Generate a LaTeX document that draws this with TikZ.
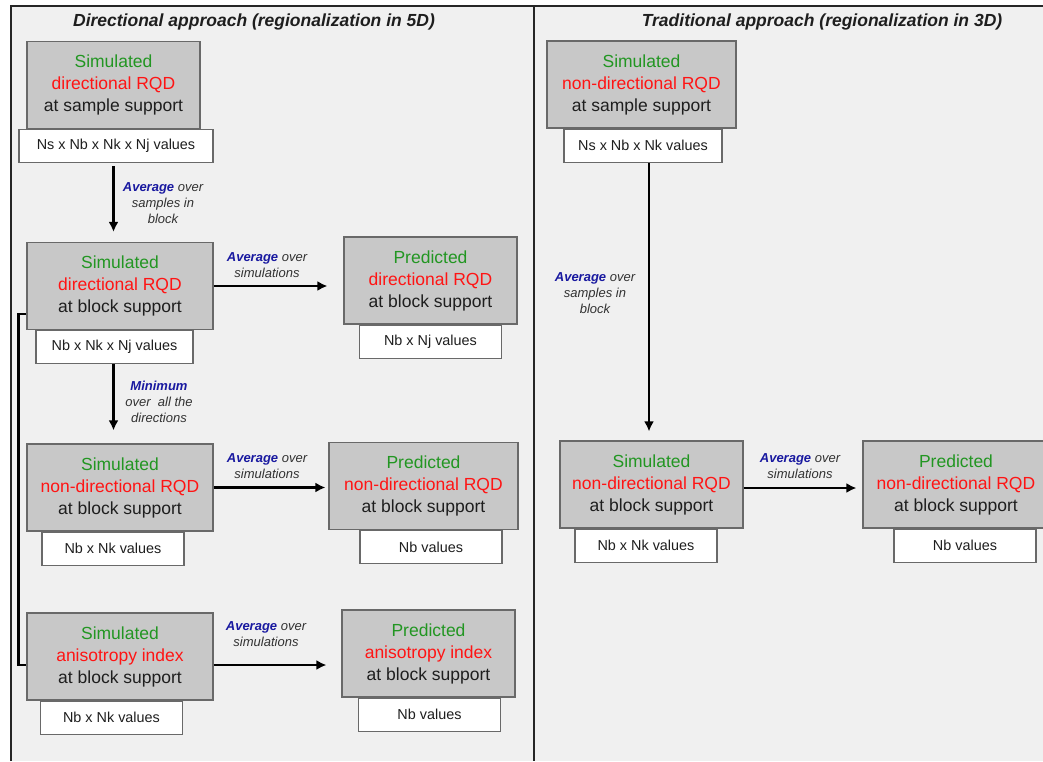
\documentclass[tikz,border=0pt]{standalone}
\usepackage{fontspec}
\setmainfont{Liberation Sans}
\usetikzlibrary{arrows.meta}
\usetikzlibrary{positioning}
\usetikzlibrary{calc}

\definecolor{panelgray}{RGB}{240,240,240}
\definecolor{boxgray}{RGB}{200,200,200}
\definecolor{boxline}{RGB}{105,105,105}
\definecolor{simgreen}{RGB}{34,150,34}
\definecolor{rqdred}{RGB}{255,20,20}
\definecolor{opblue}{RGB}{25,25,160}
\definecolor{notegray}{RGB}{50,50,50}
\definecolor{inkgray}{RGB}{30,30,30}

\newcommand{\opword}[1]{\textcolor{opblue}{\textbf{#1}}}

\begin{document}
\begin{tikzpicture}[x=1pt,y=-1pt,>={Latex[length=10pt,width=10pt]},
  simbox/.style={draw=boxline,fill=boxgray,line width=1.2pt,inner sep=0pt,minimum height=87pt,align=center,text=inkgray,font=\fontsize{17.5}{22}\selectfont},
  valbox/.style={draw=boxline,fill=white,line width=1.2pt,inner sep=0pt,minimum width=142pt,minimum height=33pt,text=inkgray,font=\fontsize{14.4}{17}\selectfont},
  note/.style={align=center,text=notegray,font=\fontsize{13}{16}\selectfont\itshape},
  title/.style={text=inkgray,font=\fontsize{17.5}{21}\selectfont\bfseries\itshape},
  flow/.style={->,line width=2.3pt}]
\clip (0,0) rectangle (1043,761);
\fill[white] (0,0) rectangle (1043,761);
\fill[panelgray] (11,6) rectangle (1043,761);
\draw[line width=2pt,black!85] (11,761) -- (11,6) -- (1043,6);
\draw[line width=2pt,black!85] (534,6) -- (534,761);

% panel titles
\node[title] (T1) at (254,22) {Directional approach (regionalization in 5D)};
\node[title] (T2) at (822,22) {Traditional approach (regionalization in 3D)};

% directional approach
\draw node [simbox,minimum width=173pt] (B1) at (113.5,85) {\textcolor{simgreen}{Simulated}\\\textcolor{rqdred}{directional RQD}\\at sample support};
\draw node [valbox,minimum width=194pt] [below=0pt of B1,xshift=2.5pt] (V1) {Ns x Nb x Nk x Nj values};
\draw node [simbox,minimum width=186pt] (B2) at (120,286) {\textcolor{simgreen}{Simulated}\\\textcolor{rqdred}{directional RQD}\\at block support};
\draw node [valbox,minimum width=157pt] [below=0pt of B2,xshift=-5.5pt] (V2) {Nb x Nk x Nj values};
\draw node [simbox,minimum width=173pt] (P1) at (430.5,280.5) {\textcolor{simgreen}{Predicted}\\\textcolor{rqdred}{directional RQD}\\at block support};
\draw node [valbox] [below=0pt of P1] (VP1) {Nb x Nj values};
\draw node [simbox,minimum width=186pt] (B3) at (120,487.5) {\textcolor{simgreen}{Simulated}\\\textcolor{rqdred}{non-directional RQD}\\at block support};
\draw node [valbox] [below=0pt of B3,xshift=-7pt] (V3) {Nb x Nk values};
\draw node [simbox,minimum width=189pt] (P2) at (423.5,486) {\textcolor{simgreen}{Predicted}\\\textcolor{rqdred}{non-directional RQD}\\at block support};
\draw node [valbox] [below=0pt of P2,xshift=7.5pt] (VP2) {Nb values};
\draw node [simbox,minimum width=186pt] (B4) at (120,656.5) {\textcolor{simgreen}{Simulated}\\\textcolor{rqdred}{anisotropy index}\\at block support};
\draw node [valbox] [below=0pt of B4,xshift=-8.5pt] (V4) {Nb x Nk values};
\draw node [simbox,minimum width=173pt] (P3) at (428.5,653.5) {\textcolor{simgreen}{Predicted}\\\textcolor{rqdred}{anisotropy index}\\at block support};
\draw node [valbox] [below=0pt of P3,xshift=1pt] (VP3) {Nb values};

\draw [flow,shorten >=10pt,shorten <=3pt] (B1 |- V1.south) -- (B1 |- B2.north);
\draw [flow,shorten >=16pt] (B2.east) -- (B2.east -| P1.west);
\draw [flow,shorten >=13pt] (B1 |- V2.south) -- (B1 |- B3.north);
\draw [flow,shorten >=3pt] (B3.east) -- (B3.east -| P2.west);
\draw [flow,shorten >=15pt] ([yshift=-8.5pt]B4.east) -- ([yshift=-8.5pt]B4.east -| P3.west);
\draw [line width=2.3pt] ([yshift=-28pt]B2.west) -- ++(-8,0) |- ([yshift=-8.5pt]B4.west);

\node[note] (L1) at (163,203) {\opword{Average} over\\samples in\\block};
\node[note] (L2) at (267,265.5) {\opword{Average} over\\simulations};
\node[note] (L3) at (159,402) {\opword{Minimum}\\over\ \ all the\\directions};
\node[note] (L4) at (267,466.5) {\opword{Average} over\\simulations};
\node[note] (L5) at (266,634.5) {\opword{Average} over\\simulations};

% traditional approach
\draw node [simbox,minimum width=189pt] (R1) at (641.5,84.5) {\textcolor{simgreen}{Simulated}\\\textcolor{rqdred}{non-directional RQD}\\at sample support};
\draw node [valbox,minimum width=158pt] [below=0pt of R1,xshift=1.5pt] (VR1) {Ns x Nb x Nk values};
\draw node [simbox,minimum width=183pt] (R2) at (651.5,484.5) {\textcolor{simgreen}{Simulated}\\\textcolor{rqdred}{non-directional RQD}\\at block support};
\draw node [valbox] [below=0pt of R2,xshift=-5.5pt] (VR2) {Nb x Nk values};
\draw node [simbox,minimum width=186pt] (R3) at (956,484.5) {\textcolor{simgreen}{Predicted}\\\textcolor{rqdred}{non-directional RQD}\\at block support};
\draw node [valbox] [below=0pt of R3,xshift=9pt] (VR3) {Nb values};

\draw [flow,shorten >=9pt] ([xshift=6pt]VR1.south) -- ([xshift=6pt]VR1.south |- R2.north);
\draw [flow,shorten >=6pt] ([yshift=-3.5pt]R2.east) -- ([yshift=-3.5pt]R2.east -| R3.west);

\node[note] (L6) at (595,293) {\opword{Average} over\\samples in\\block};
\node[note] (L7) at (800,466) {\opword{Average} over\\simulations};
\end{tikzpicture}
\end{document}
